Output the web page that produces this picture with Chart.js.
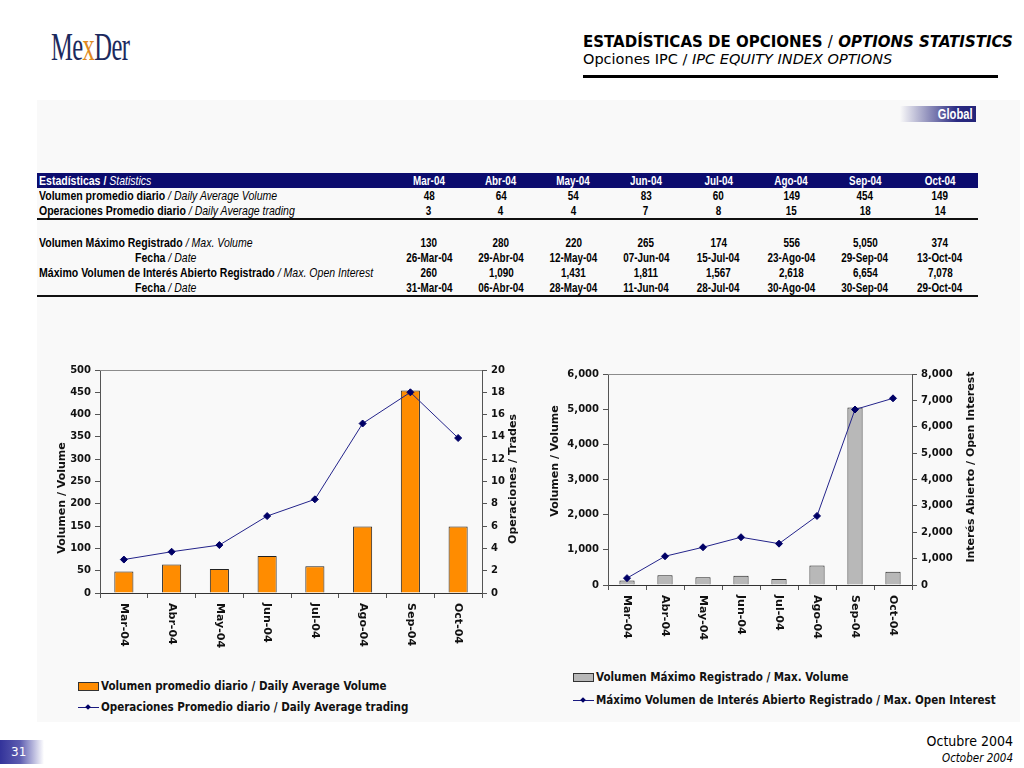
<!DOCTYPE html>
<html>
<head>
<meta charset="utf-8">
<script src="https://cdn.jsdelivr.net/npm/chart.js@4.4.1/dist/chart.umd.min.js"></script>
<style>
  body { margin: 0; width: 1024px; height: 768px; background: #fff; position: relative; overflow: hidden; font-family: "DejaVu Sans", sans-serif; }
  .abs { position: absolute; }
  #panel { left: 37px; top: 100px; width: 983px; height: 622px; background: #f9f9f9; }
  #logo { left: 51px; top: 22px; font-family: "Liberation Serif", serif; font-size: 41px; color: #1c2a5e; transform: scaleX(0.6); transform-origin: left top; letter-spacing: -1px; white-space: nowrap; }
  #logo span { color: #e08a1e; }
  #head1 { left: 583px; top: 33px; font-size: 15px; font-weight: bold; color: #000; white-space: nowrap; }
  #head2 { left: 583px; top: 51px; font-size: 14.5px; color: #000; white-space: nowrap; }
  #headline { left: 583px; top: 75px; width: 415px; height: 3px; background: #000; }
  #global { left: 900px; top: 106px; width: 76px; height: 16px; background: linear-gradient(to right, rgba(255,255,255,0) 0%, #8a8ab8 40%, #2a2a82 75%, #232378 100%); color: #fff; font-family: "Liberation Sans", sans-serif; font-weight: bold; font-size: 14px; text-align: right; line-height: 16px; padding-right: 3px; box-sizing: border-box; }
  #global span { display: inline-block; transform: scaleX(0.8); transform-origin: right center; }
  table { position: absolute; left: 37px; top: 173px; width: 941px; border-collapse: collapse; font-family: "Liberation Sans", sans-serif; font-size: 13px; font-weight: bold; color: #000; table-layout: fixed; }
  td { height: 15px; padding: 0; line-height: 15px; text-align: center; white-space: nowrap; overflow: visible; }
  td span { display: inline-block; transform: scaleX(0.76); transform-origin: center center; }
  td.lab { text-align: left; padding-left: 2px; }
  td.lab span { transform: scaleX(0.81); transform-origin: left center; }
  td.fecha { text-align: left; padding-left: 98px; }
  td.fecha span { transform: scaleX(0.81); transform-origin: left center; }
  td i { font-weight: normal; }
  tr.hdr td { background: #0c0c6e; color: #fff; }
  tr.sep td { border-bottom: 2px solid #111; }
  .legend { font-family: "DejaVu Sans Condensed", sans-serif; font-size: 11.5px; font-weight: bold; color: #111; white-space: nowrap; }
  .sw { display: inline-block; width: 19px; height: 7px; border: 1px solid #333; vertical-align: -1px; margin-right: 2px; }
  .ln { display: inline-block; width: 21px; height: 9px; position: relative; vertical-align: -1px; margin-right: 2px; }
  .ln::before { content: ""; position: absolute; left: 0; right: 0; top: 4px; height: 1px; background: #1a1a80; }
  .ln::after { content: ""; position: absolute; left: 8px; top: 2px; width: 4px; height: 4px; background: #000066; transform: rotate(45deg); }
  #pagenum { left: 0; top: 740px; width: 44px; height: 24px; background: linear-gradient(to right, #33339a 0%, #5c5cb0 45%, rgba(255,255,255,0) 100%); color: #fff; font-size: 12px; line-height: 24px; padding-left: 11px; box-sizing: border-box; }
  #foot1 { right: 11px; top: 733px; font-family: "DejaVu Sans Condensed", sans-serif; font-size: 14px; color: #000; }
  #foot2 { right: 11px; top: 751px; font-family: "DejaVu Sans Condensed", sans-serif; font-size: 11.5px; font-style: italic; color: #000; }
</style>
</head>
<body>
<div id="panel" class="abs"></div>
<div id="logo" class="abs">Me<span>x</span>Der</div>
<div id="head1" class="abs">ESTADÍSTICAS DE OPCIONES <span style="font-weight:normal">/</span> <i>OPTIONS STATISTICS</i></div>
<div id="head2" class="abs">Opciones IPC / <i>IPC EQUITY INDEX OPTIONS</i></div>
<div id="headline" class="abs"></div>
<div id="global" class="abs"><span>Global</span></div>

<table id="tabla"></table>

<canvas id="chartIzq" class="abs" width="500" height="310" style="left:40px;top:355px"></canvas>
<canvas id="chartDer" class="abs" width="470" height="300" style="left:545px;top:360px"></canvas>

<div class="abs legend" style="left:78px;top:679px"><span class="sw" style="background:#ff8c00"></span>Volumen promedio diario / Daily Average Volume</div>
<div class="abs legend" style="left:78px;top:700px"><span class="ln"></span>Operaciones Promedio diario / Daily Average trading</div>
<div class="abs legend" style="left:573px;top:670px"><span class="sw" style="background:#b8b8b8"></span>Volumen Máximo Registrado / Max. Volume</div>
<div class="abs legend" style="left:573px;top:693px"><span class="ln"></span>Máximo Volumen de Interés Abierto Registrado / Max. Open Interest</div>

<div id="pagenum" class="abs">31</div>
<div id="foot1" class="abs">Octubre 2004</div>
<div id="foot2" class="abs">October 2004</div>

<script>
const meses = ["Mar-04", "Abr-04", "May-04", "Jun-04", "Jul-04", "Ago-04", "Sep-04", "Oct-04"];
const volPromedio = [48, 64, 54, 83, 60, 149, 454, 149];
const opsTabla = [3, 4, 4, 7, 8, 15, 18, 14];
const opsPromedio = [3.0, 3.7, 4.3, 6.9, 8.4, 15.2, 18.0, 13.9];
const volMaximo = [130, 280, 220, 265, 174, 556, 5050, 374];
const fechaVolMax = ["26-Mar-04", "29-Abr-04", "12-May-04", "07-Jun-04", "15-Jul-04", "23-Ago-04", "29-Sep-04", "13-Oct-04"];
const interesAbierto = [260, 1090, 1431, 1811, 1567, 2618, 6654, 7078];
const fechaInteres = ["31-Mar-04", "06-Abr-04", "28-May-04", "11-Jun-04", "28-Jul-04", "30-Ago-04", "30-Sep-04", "29-Oct-04"];

const fmt = (n) => Number(n).toLocaleString("en-US");

// tabla de estadisticas
function fila(cls, labelHtml, valores, labCls) {
  let html = `<tr class="${cls}"><td class="${labCls || "lab"}"><span>${labelHtml}</span></td>`;
  valores.forEach((v) => { html += `<td><span>${v}</span></td>`; });
  return html + "</tr>";
}
const anchos = [356, 72, 72, 73, 72, 73, 73, 74, 76];
let tabla = "<colgroup>" + anchos.map((w) => `<col style="width:${w}px">`).join("") + "</colgroup>";
tabla += fila("hdr", "Estadísticas / <i>Statistics</i>", meses);
tabla += fila("", "Volumen promedio diario <i>/ Daily Average Volume</i>", volPromedio);
tabla += fila("sep", "Operaciones Promedio diario <i>/ Daily Average trading</i>", opsTabla);
tabla += `<tr><td colspan="9"></td></tr>`;
tabla += fila("", "Volumen Máximo Registrado <i>/ Max. Volume</i>", volMaximo.map(fmt));
tabla += fila("", "Fecha <i>/ Date</i>", fechaVolMax, "fecha");
tabla += fila("", "Máximo Volumen de Interés Abierto Registrado <i>/ Max. Open Interest</i>", interesAbierto.map(fmt));
tabla += fila("sep", "Fecha <i>/ Date</i>", fechaInteres, "fecha");
document.querySelector("#tabla").innerHTML = tabla;

// etiquetas giradas, borde superior y titulos de ejes
const extras = {
  id: "extras",
  afterDraw(chart, args, opts) {
    const ctx = chart.ctx;
    const area = chart.chartArea;
    ctx.save();
    ctx.strokeStyle = "#8c8c8c";
    ctx.lineWidth = 1;
    ctx.beginPath();
    ctx.moveTo(area.left, area.top + 0.5);
    ctx.lineTo(area.right, area.top + 0.5);
    ctx.stroke();

    const xs = chart.scales.x;
    ctx.fillStyle = "#111";
    ctx.font = "bold 11px 'DejaVu Sans'";
    ctx.textAlign = "left";
    ctx.textBaseline = "middle";
    chart.data.labels.forEach((lab, i) => {
      ctx.save();
      ctx.translate(xs.getPixelForValue(i), area.bottom + opts.labelGap);
      ctx.rotate(Math.PI / 2);
      ctx.fillText(lab, 0, 0);
      ctx.restore();
    });

    ctx.font = "bold 11px 'DejaVu Sans'";
    ctx.textAlign = "center";
    opts.titulos.forEach((t) => {
      ctx.save();
      ctx.translate(t.x, t.y);
      ctx.rotate(-Math.PI / 2);
      ctx.fillText(t.text, 0, 0);
      ctx.restore();
    });
    ctx.restore();
  },
};

function ejeY(pos, max, step, ancho) {
  return {
    type: "linear",
    position: pos,
    min: 0,
    max: max,
    afterFit: (s) => { s.width = ancho; },
    ticks: { stepSize: step, color: "#111", font: { family: "DejaVu Sans", size: 10, weight: "bold" }, padding: 4, callback: (v) => fmt(v) },
    grid: { display: true, drawOnChartArea: false, drawTicks: true, tickLength: 5, color: "#555" },
    border: { display: true, color: "#555" },
  };
}

function crearGrafica(id, barras, linea, conf) {
  return new Chart(document.getElementById(id), {
    type: "bar",
    data: {
      labels: meses,
      datasets: [
        {
          type: "line",
          data: linea,
          yAxisID: "y1",
          order: 0,
          borderColor: "#23238a",
          borderWidth: 1,
          pointStyle: "rectRot",
          pointRadius: 3.5,
          pointBackgroundColor: "#000066",
          pointBorderColor: "#000066",
          tension: 0,
        },
        {
          data: barras,
          yAxisID: "y",
          order: 1,
          backgroundColor: conf.colorBarra,
          borderColor: "#222",
          borderWidth: 1,
          barPercentage: 0.4,
          categoryPercentage: 1,
        },
      ],
    },
    options: {
      responsive: false,
      maintainAspectRatio: false,
      animation: false,
      layout: { padding: { top: conf.padTop, left: 0, right: 0, bottom: 0 } },
      plugins: {
        legend: { display: false },
        tooltip: { enabled: false },
        extras: { labelGap: conf.labelGap, titulos: conf.titulos },
      },
      scales: {
        x: {
          afterFit: (s) => { s.height = conf.altoX; },
          ticks: { display: false },
          grid: { display: true, drawOnChartArea: false, drawTicks: true, tickLength: 5, color: "#555", offset: true },
          border: { display: true, color: "#333" },
        },
        y: ejeY("left", conf.maxY, conf.stepY, conf.anchoY),
        y1: ejeY("right", conf.maxY1, conf.stepY1, conf.anchoY1),
      },
    },
    plugins: [extras],
  });
}

crearGrafica("chartIzq", volPromedio, opsPromedio, {
  colorBarra: "#ff8c00",
  padTop: 15, altoX: 72, anchoY: 60, anchoY1: 58, labelGap: 10,
  maxY: 500, stepY: 50, maxY1: 20, stepY1: 2,
  titulos: [
    { text: "Volumen / Volume", x: 22, y: 143 },
    { text: "Operaciones / Trades", x: 473, y: 124 },
  ],
});

crearGrafica("chartDer", volMaximo, interesAbierto, {
  colorBarra: "#b8b8b8",
  padTop: 14, altoX: 75, anchoY: 63, anchoY1: 103, labelGap: 10,
  maxY: 6000, stepY: 1000, maxY1: 8000, stepY1: 1000,
  titulos: [
    { text: "Volumen / Volume", x: 10, y: 101 },
    { text: "Interés Abierto / Open Interest", x: 426, y: 107 },
  ],
});
</script>
</body>
</html>
